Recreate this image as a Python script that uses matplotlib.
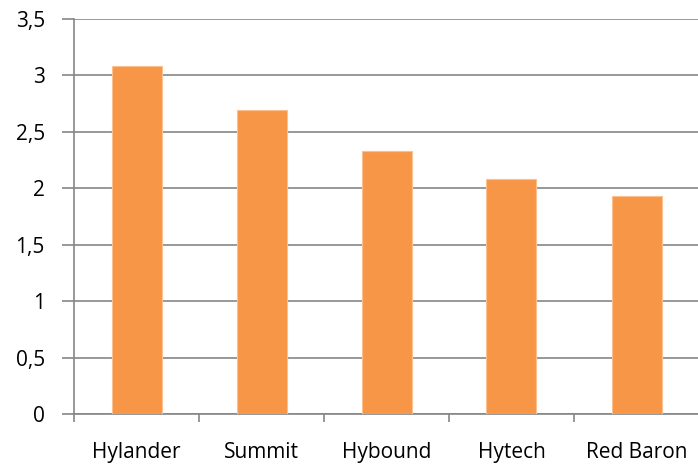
import numpy as np
import matplotlib
matplotlib.use("Agg")
import matplotlib.pyplot as plt
from matplotlib.ticker import FixedLocator, FuncFormatter

categories = ["Hylander", "Summit", "Hybound", "Hytech", "Red Baron"]
values = [3.08, 2.69, 2.33, 2.08, 1.93]
y_ticks = [0, 0.5, 1, 1.5, 2, 2.5, 3, 3.5]

plt.rcParams['font.family'] = ['Open Sans', 'DejaVu Sans']

fig = plt.figure(figsize=(6.98, 4.66), dpi=100)
ax = fig.add_axes([74 / 698, 1 - 414 / 466, 625 / 698, 395 / 466])

x = np.arange(len(categories))
ax.bar(x, values, width=0.4, color="#F79646", edgecolor="#FAC090", linewidth=0.8, zorder=3)

ax.set_xlim(-0.5, len(categories) - 0.5)
ax.set_ylim(0, 3.5)
ax.set_yticks(y_ticks)
ax.yaxis.set_major_formatter(FuncFormatter(lambda v, p: f"{v:g}".replace(".", ",")))
ax.grid(axis="y", color="#868686", linewidth=1.2, zorder=0)

ax.set_xticks(x)
ax.set_xticklabels(categories)
ax.xaxis.set_minor_locator(FixedLocator(np.arange(-0.5, len(categories), 1.0)))
ax.tick_params(axis="x", which="major", length=0, pad=20, labelsize=15)
ax.tick_params(axis="x", which="minor", length=6, width=1.2, color="#868686")
ax.tick_params(axis="y", length=9, width=1.2, color="#868686", pad=12, labelsize=15)

for s in ["top", "right"]:
    ax.spines[s].set_visible(False)
for s in ["left", "bottom"]:
    ax.spines[s].set_color("#868686")
    ax.spines[s].set_linewidth(1.2)

fig.savefig("out.png", dpi=100)
